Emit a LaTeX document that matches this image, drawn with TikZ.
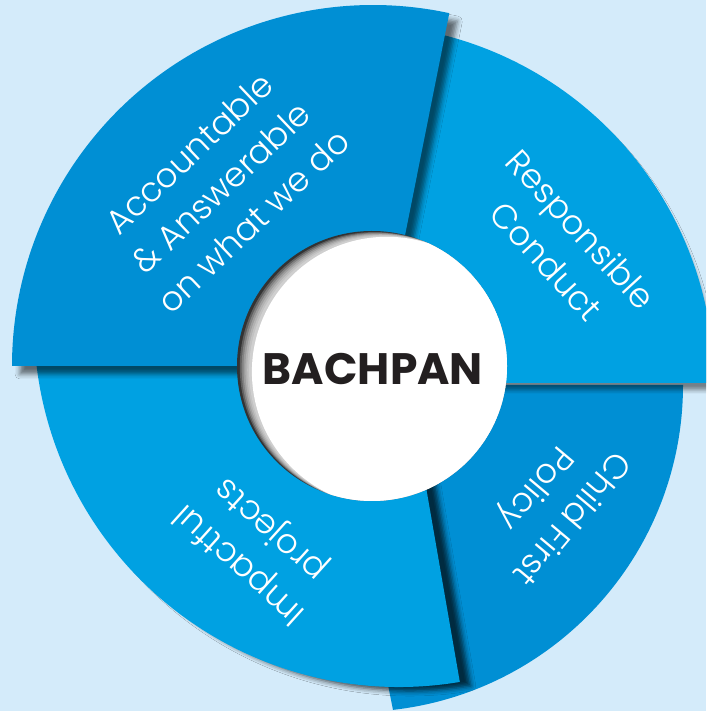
\documentclass[tikz,border=0pt]{standalone}
\usepackage{fontspec}
\setmainfont{Poppins}
\newfontfamily\lightfont{Poppins Light}
\usetikzlibrary{shadows.blur}
\definecolor{bg}{HTML}{D4EBFA}
\definecolor{dblue}{HTML}{008FD4}
\definecolor{lblue}{HTML}{00A1E2}
\definecolor{ink}{HTML}{231F20}
\definecolor{rimgray}{HTML}{333333}
\tikzset{
  segtext/.style={text=white, align=center, inner sep=0pt,
    font=\lightfont\fontsize{34}{47}\selectfont},
  piece/.style={fill=#1},
}
\begin{document}
\begin{tikzpicture}[x=1pt,y=1pt]
\useasboundingbox (0,0) rectangle (706,711);
\clip (0,0) rectangle (706,711);
\fill[bg] (0,0) rectangle (706,711);
% bottom-right piece
\path[piece=dblue] (328,326) -- (683,326) arc[start angle=0, end angle=-83.5, radius=327] -- cycle;
% top-right piece
\path[piece=lblue, blur shadow={shadow xshift=1pt, shadow yshift=-7pt, shadow blur radius=4pt, shadow opacity=45}]
  (355,328) -- (714,328) arc[start angle=0, end angle=100, radius=359] -- cycle;
% bottom-left piece
\path[piece=lblue, blur shadow={shadow xshift=11pt, shadow yshift=-4pt, shadow blur radius=5pt, shadow opacity=70}]
  (405,345) -- (36.6,345.1) arc[start angle=186.9, end angle=279.6, radius=365] -- cycle;
% top-left piece
\path[piece=dblue, blur shadow={shadow xshift=8pt, shadow yshift=-8pt, shadow blur radius=5pt, shadow opacity=55}]
  (379,345) -- (12,345) arc[start angle=180, end angle=77.8, radius=361] -- cycle;
% centre disc with inner shadow
\begin{scope}
  \clip (372,345) circle (135);
  \fill[rimgray] (372,345) circle (135);
  \foreach \s in {3,5,7,9,11,13}
    \fill[white, opacity=0.22, shift={(\s*0.93,-\s*0.36)}] (372,345) circle (135);
  \fill[white, shift={(14.9,-5.8)}] (372,345) circle (135);
\end{scope}
\node[text=ink, font=\bfseries\fontsize{44}{52}\selectfont, inner sep=0pt] (core) at (373,342.5) {BACHPAN};
\node[segtext, rotate=43.5] (acc) at (221,524) {Accountable\\\& Answerable\\on what we do};
\node[segtext, rotate=-47.5] (resp) at (564,466) {Responsible\\Conduct};
\node[segtext, rotate=230] (child) at (552,209) {Child First\\Policy};
\node[segtext, rotate=138] (imp) at (256,165) {Impactful\\projects};
\end{tikzpicture}
\end{document}
